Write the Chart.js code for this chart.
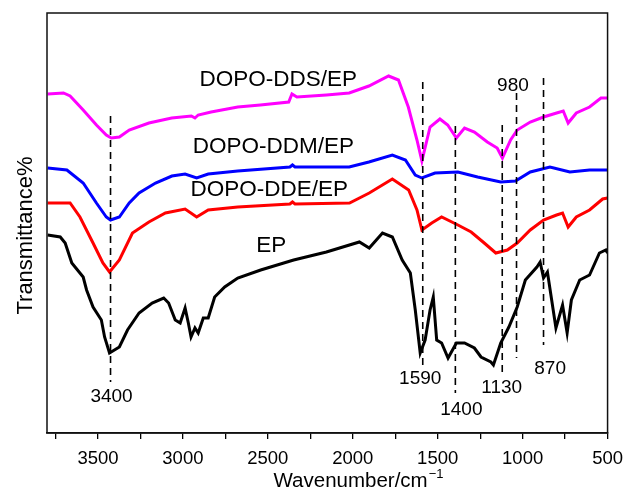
<!DOCTYPE html>
<html>
<head>
<meta charset="utf-8">
<script src="https://cdn.jsdelivr.net/npm/chart.js@4"></script>
<style>
  html, body { margin: 0; padding: 0; background: #fff; }
  #grafica { display: block; }
</style>
</head>
<body>
<canvas id="grafica" width="632" height="496"></canvas>
<script>
const ddsWave = [3796,3703,3664,3587,3509,3451,3422,3374,3316,3200,3066,2950,2929,2910,2834,2677,2544,2377,2358,2329,2155,2021,1905,1789,1731,1673,1622,1593,1545,1487,1441,1390,1342,1284,1208,1150,1119,1071,1032,955,877,800,761,732,684,606,539,500];
const ddsT    = [339,340,337,323,308,298,295,296,303,310,315,317,315,318,321,326,328,331,339,336,338,340,347,357,353,326,293,272,306,314,308,295,305,301,291,285,275,293,303,311,316,320,322,310,320,326,335,335];

const ddmWave = [3796,3683,3587,3509,3451,3426,3374,3316,3258,3161,3065,2987,2919,2851,2677,2370,2355,2340,2021,1905,1767,1690,1632,1593,1516,1381,1265,1129,1042,955,839,722,606,500];
const ddmT    = [265,263,250,230,216,213,216,230,240,250,257,259,255,259,262,266,268,266,266,271,278,273,258,255,260,261,256,251,252,261,266,261,263,263];

const ddeWave = [3796,3664,3606,3529,3471,3432,3374,3297,3200,3103,2987,2919,2851,2677,2370,2355,2340,2019,1903,1767,1671,1622,1593,1535,1477,1381,1303,1226,1158,1090,1032,955,877,800,765,732,684,606,529,500];
const ddeT    = [230,230,216,190,170,161,173,200,211,220,224,216,223,226,229,231,229,230,240,254,243,223,203,210,216,208,201,190,180,183,190,203,213,218,220,206,216,223,234,235];

const epWave = [3796,3722,3693,3654,3587,3567,3529,3480,3461,3432,3374,3326,3258,3181,3113,3084,3045,3016,2987,2968,2952,2929,2910,2880,2851,2813,2754,2677,2542,2348,2155,1961,1903,1825,1767,1709,1661,1632,1603,1574,1545,1526,1506,1477,1439,1390,1342,1284,1245,1187,1172,1129,1081,1032,984,916,897,877,854,829,804,765,738,713,664,606,548,510,500];
const epT    = [198,196,190,170,156,143,126,113,96,80,86,103,120,130,135,130,113,110,125,110,96,105,100,115,115,136,146,155,163,173,181,191,185,200,196,173,160,123,80,93,123,136,93,90,75,90,90,85,76,71,68,90,106,126,153,166,171,155,161,133,105,128,100,133,153,158,180,183,180];

// marcas del eje x (las de 500 en 500 llevan numero)
const xTickValues = [3750, 3500, 3250, 3000, 2750, 2500, 2250, 2000, 1750, 1500, 1250, 1000, 750, 500];
const xTickLabels = ['', '3500', '', '3000', '', '2500', '', '2000', '', '1500', '', '1000', '', '500'];

// lineas discontinuas de las bandas
const markWave   = [3426, 1588, 1396, 1120, 1036, 877];
const markTop    = [317, 351, 307, 308, 340, 355];
const markBottom = [51, 67, 40, 60, 75, 88];

// etiquetas de las bandas
const peakText  = ['3400', '1590', '1400', '1130', '980', '870'];
const peakWave  = [3420, 1603, 1361, 1123, 1057, 838];
const peakLevel = [36, 54, 23, 45, 347, 64];

// nombres de las muestras
const seriesNames = ['DOPO-DDS/EP', 'DOPO-DDM/EP', 'DOPO-DDE/EP', 'EP'];
const seriesColors = ['#ff00ff', '#0000ff', '#ff0000', '#000000'];
const nameWave  = [2439, 2468, 2492, 2480];
const nameLevel = [353, 286.5, 243, 187];

const FUENTE = "'Liberation Sans', Arial, Helvetica, sans-serif";

function puntos(ondas, valores) {
    return ondas.map((w, i) => ({ x: w, y: valores[i] }));
}

// --- datasets ---
const lineasMarca = markWave.map((w, i) => ({
    data: [{ x: w, y: markTop[i] }, { x: w, y: markBottom[i] }],
    borderColor: '#000',
    borderWidth: 1.6,
    borderDash: [7, 5],
    pointRadius: 0
}));

const espectros = [
    [ddsWave, ddsT], [ddmWave, ddmT], [ddeWave, ddeT], [epWave, epT]
].map(([w, t], i) => ({
    label: seriesNames[i],
    data: puntos(w, t),
    borderColor: seriesColors[i],
    borderWidth: 3,
    pointRadius: 0,
    tension: 0
}));

// marco, titulos y textos sobre la grafica
const textosPlugin = {
    id: 'textos',
    afterDraw(chart) {
        const { ctx, chartArea, scales } = chart;
        const x = scales.x, y = scales.y;
        ctx.save();

        // marco
        ctx.strokeStyle = '#111';
        ctx.lineWidth = 1.5;
        ctx.strokeRect(chartArea.left, chartArea.top, chartArea.right - chartArea.left, chartArea.bottom - chartArea.top);

        ctx.fillStyle = '#000';
        ctx.textAlign = 'center';
        ctx.textBaseline = 'middle';

        // bandas
        ctx.font = '19px ' + FUENTE;
        peakText.forEach((t, i) => {
            ctx.fillText(t, x.getPixelForValue(peakWave[i]), y.getPixelForValue(peakLevel[i]));
        });

        // muestras
        ctx.font = '22.5px ' + FUENTE;
        seriesNames.forEach((t, i) => {
            ctx.fillText(t, x.getPixelForValue(nameWave[i]), y.getPixelForValue(nameLevel[i]));
        });

        // titulo eje x
        ctx.textAlign = 'left';
        ctx.textBaseline = 'alphabetic';
        ctx.font = '20.5px ' + FUENTE;
        const base = 'Wavenumber/cm';
        const anchoBase = ctx.measureText(base).width;
        ctx.font = '13px ' + FUENTE;
        const sup = '\u22121';
        const anchoSup = ctx.measureText(sup).width;
        const inicio = 358 - (anchoBase + anchoSup) / 2;
        ctx.font = '20.5px ' + FUENTE;
        ctx.fillText(base, inicio, 487);
        ctx.font = '13px ' + FUENTE;
        ctx.fillText(sup, inicio + anchoBase + 1, 478);

        // titulo eje y
        ctx.translate(31.5, 235.5);
        ctx.rotate(-Math.PI / 2);
        ctx.textAlign = 'center';
        ctx.font = '22px ' + FUENTE;
        ctx.fillText('Transmittance%', 0, 0);

        ctx.restore();
    }
};

new Chart(document.getElementById('grafica').getContext('2d'), {
    type: 'line',
    data: { datasets: [...lineasMarca, ...espectros] },
    options: {
        responsive: false,
        animation: false,
        layout: { padding: { left: 47, right: 17, top: 13, bottom: 0 } },
        plugins: { legend: { display: false }, tooltip: { enabled: false } },
        scales: {
            x: {
                type: 'linear',
                reverse: true,
                min: 500,
                max: 3800,
                afterBuildTicks: (escala) => {
                    escala.ticks = xTickValues.map(v => ({ value: v }));
                },
                afterFit: (escala) => { escala.height = 63; },
                grid: {
                    display: true,
                    drawOnChartArea: false,
                    drawTicks: true,
                    tickLength: 6,
                    color: '#000',
                    lineWidth: 1.3
                },
                border: { display: true, color: '#111', width: 1.5 },
                ticks: {
                    autoSkip: false,
                    maxRotation: 0,
                    padding: 9,
                    color: '#000',
                    font: { family: FUENTE, size: 18.5 },
                    callback: (v, i) => xTickLabels[i]
                }
            },
            y: {
                display: false,
                min: 0,
                max: 420
            }
        }
    },
    plugins: [textosPlugin]
});
</script>
</body>
</html>
